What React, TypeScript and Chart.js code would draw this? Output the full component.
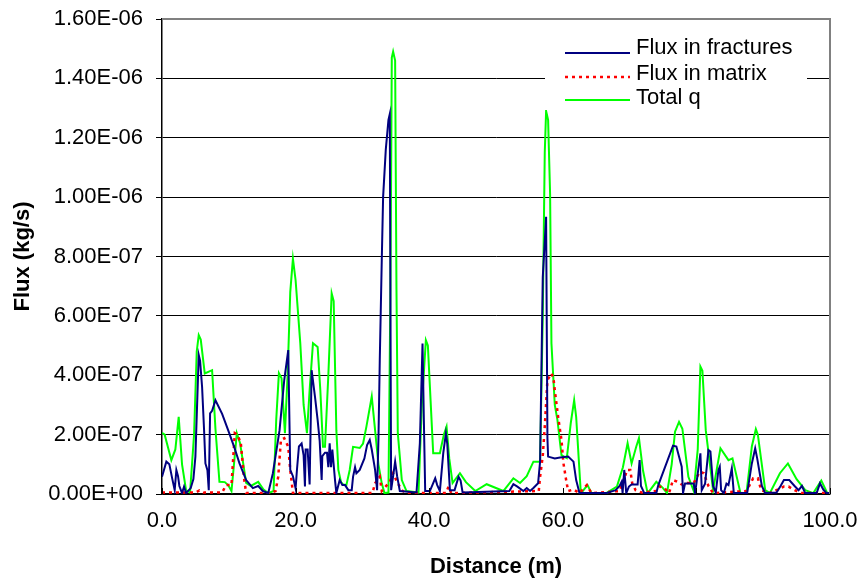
import React, { useEffect, useRef } from "react";
import { Chart, registerables } from "chart.js";

Chart.register(...registerables);

// values of y are in units of 1e-7 kg/s
const UNIT = 1e-7;
const X_TICKS = [0, 20, 40, 60, 80, 100];
const Y_MAX = 1.6e-6;
const Y_STEP = 2e-7;

const SERIES_NAMES = ["Flux in fractures", "Flux in matrix", "Total q"];

const fracX = [0, 0.65, 1.1, 1.5, 1.9, 2.15, 2.4, 2.6, 3.0, 3.3, 3.6, 4.3, 4.7, 5.0, 5.5, 5.7, 6.0, 6.3, 6.5, 6.8, 7.0, 7.2, 7.5, 8.0, 9.0, 9.9, 10.8, 11.6, 12.6, 13.6, 14.4, 15.1, 15.9, 16.6, 17.6, 18.3, 18.9, 19.2, 19.6, 20.0, 20.2, 20.5, 20.9, 21.2, 21.4, 21.5, 21.8, 22.1, 22.4, 22.9, 23.3, 23.6, 23.9, 24.0, 24.4, 24.7, 24.9, 25.1, 25.3, 25.5, 25.9, 26.1, 26.6, 27.0, 27.4, 27.9, 28.4, 28.6, 28.9, 29.1, 29.6, 30.3, 30.7, 31.1, 31.4, 31.9, 32.2, 32.4, 32.6, 32.9, 33.1, 33.5, 33.9, 34.1, 34.3, 34.6, 34.9, 35.2, 35.6, 38.1, 38.6, 39.0, 39.2, 39.4, 40.1, 40.6, 40.9, 41.2, 41.6, 42.1, 42.5, 42.7, 43.1, 43.8, 44.4, 44.7, 45.0, 52.0, 52.6, 53.2, 54.1, 54.6, 55.1, 55.6, 56.3, 56.6, 57.0, 57.5, 57.7, 57.8, 58.8, 59.6, 60.8, 61.6, 62.0, 62.5, 66.5, 67.9, 68.5, 68.8, 68.95, 69.2, 69.5, 69.9, 70.3, 71.2, 71.5, 71.7, 72.2, 74.0, 74.3, 76.5, 77.0, 77.8, 78.0, 78.3, 79.6, 79.8, 80.0, 80.6, 80.8, 81.3, 81.8, 82.1, 82.5, 82.9, 83.3, 83.5, 83.7, 84.1, 84.5, 84.8, 85.3, 85.6, 87.6, 88.3, 88.8, 89.1, 89.8, 90.3, 92.0, 92.6, 93.1, 93.9, 94.7, 95.3, 95.8, 96.3, 98.0, 98.5, 99.0, 99.5, 100];
const fracY = [0.58, 1.09, 1.0, 0.55, 0.13, 0.81, 0.6, 0.27, 0.03, 0.25, 0.03, 0.2, 0.5, 1.26, 4.68, 4.49, 3.61, 2.15, 1.03, 0.8, 0.13, 2.72, 2.8, 3.16, 2.7, 2.15, 1.59, 1.03, 0.47, 0.2, 0.27, 0.1, 0.03, 0.7, 2.15, 3.84, 4.85, 0.81, 0.6, 0.19, 0.81, 1.6, 1.7, 1.3, 0.25, 1.5, 1.5, 0.32, 4.17, 3.28, 2.49, 1.8, 0.47, 1.28, 1.39, 1.39, 0.9, 1.71, 0.9, 1.5, 0.47, 0.03, 0.47, 0.3, 0.3, 0.13, 0.13, 0.58, 0.9, 0.7, 0.81, 1.2, 1.65, 1.82, 1.5, 0.81, 0.13, 1.8, 4.5, 7.88, 10.0, 11.6, 12.6, 12.8, 0.13, 0.6, 1.09, 0.6, 0.1, 0.05, 1.71, 5.07, 2.5, 0.1, 0.1, 0.37, 0.53, 0.3, 0.1, 1.37, 2.04, 1.7, 0.13, 0.13, 0.58, 0.45, 0.05, 0.1, 0.33, 0.25, 0.1, 0.2, 0.1, 0.2, 0.36, 1.09, 7.3, 9.34, 1.88, 1.26, 1.2, 1.23, 1.26, 1.09, 0.47, 0.03, 0.03, 0.13, 0.27, 0.41, 0.03, 0.81, 0.03, 0.25, 0.32, 0.32, 1.14, 0.27, 0.03, 0.03, 0.3, 1.63, 1.6, 0.92, 0.03, 0.35, 0.35, 0.03, 0.35, 1.37, 0.13, 0.35, 1.48, 1.43, 0.27, 0.05, 0.81, 0.92, 0.13, 0.03, 0.35, 0.3, 0.86, 0.03, 0.03, 1.03, 1.54, 1.2, 0.27, 0.03, 0.05, 0.27, 0.47, 0.47, 0.27, 0.13, 0.27, 0.03, 0.03, 0.36, 0.15, 0.03, 0.03];

const matX = [0, 5.0, 5.6, 6.2, 9.0, 9.6, 10.4, 10.9, 11.3, 11.8, 12.3, 12.6, 16.2, 17.0, 17.4, 17.8, 18.3, 18.9, 19.2, 19.6, 31.5, 31.9, 32.6, 32.9, 34.1, 34.6, 35.2, 35.9, 36.5, 42.5, 42.9, 43.3, 56.4, 56.6, 57.0, 57.3, 57.7, 58.3, 58.6, 58.8, 59.3, 59.8, 60.1, 60.5, 60.8, 61.6, 62.5, 63.6, 64.3, 68.5, 69.2, 69.6, 70.1, 70.4, 70.9, 71.8, 74.0, 74.5, 75.2, 75.9, 76.5, 77.1, 77.8, 78.6, 79.6, 80.5, 81.1, 81.8, 82.5, 87.5, 88.5, 89.2, 89.7, 91.0, 93.1, 93.8, 94.7, 95.8, 100];
const matY = [0.05, 0.05, 0.12, 0.05, 0.05, 0.3, 0.3, 2.05, 2.0, 1.71, 0.5, 0.03, 0.03, 0.1, 0.58, 1.82, 1.88, 1.59, 0.81, 0.03, 0.03, 0.36, 0.58, 0.1, 0.41, 0.7, 0.4, 0.13, 0.03, 0.03, 0.25, 0.03, 0.1, 0.58, 1.28, 2.27, 3.84, 4.06, 3.9, 3.5, 2.6, 1.82, 1.03, 0.47, 0.1, 0.15, 0.03, 0.3, 0.03, 0.1, 0.5, 0.81, 0.81, 0.35, 0.13, 0.05, 0.1, 0.25, 0.2, 0.03, 0.47, 0.42, 0.32, 0.37, 0.37, 0.75, 0.7, 0.27, 0.03, 0.1, 0.53, 0.53, 0.13, 0.03, 0.25, 0.25, 0.13, 0.03, 0.03];

const totX = [0, 0.4, 1.4, 2.0, 2.5, 3.0, 3.6, 4.2, 4.8, 5.2, 5.5, 5.8, 6.4, 7.5, 8.0, 8.6, 9.4, 9.9, 10.4, 10.9, 11.2, 11.7, 12.6, 13.3, 14.4, 15.2, 15.9, 16.7, 17.1, 17.5, 17.9, 18.4, 18.8, 19.2, 19.6, 20.0, 20.7, 21.2, 21.7, 22.1, 22.6, 23.3, 23.7, 24.1, 24.4, 24.9, 25.4, 25.7, 26.1, 26.4, 26.8, 27.1, 27.6, 28.1, 28.6, 29.6, 30.1, 30.6, 31.4, 31.9, 32.4, 32.9, 33.3, 33.9, 34.2, 34.4, 34.6, 34.9, 35.1, 35.3, 35.9, 36.6, 38.4, 38.9, 39.5, 39.8, 40.4, 40.6, 41.6, 42.2, 42.6, 43.0, 43.5, 44.6, 45.5, 46.9, 48.6, 51.1, 52.6, 53.6, 54.6, 55.6, 56.6, 57.0, 57.3, 57.5, 57.8, 58.1, 58.3, 58.8, 59.2, 59.8, 60.6, 61.2, 61.7, 62.0, 62.7, 63.7, 64.3, 66.5, 68.1, 69.0, 69.7, 70.3, 71.0, 71.4, 72.0, 72.7, 74.0, 75.0, 75.6, 76.3, 76.8, 77.4, 77.9, 78.8, 79.6, 80.2, 80.6, 80.9, 81.4, 82.5, 83.6, 84.8, 85.4, 86.6, 87.5, 88.3, 88.9, 89.2, 90.3, 91.0, 92.5, 93.7, 95.0, 96.3, 97.5, 98.7, 99.6, 100];
const totY = [2.06, 2.0, 1.14, 1.5, 2.6, 1.0, 0.13, 0.05, 2.0, 4.8, 5.35, 5.2, 4.06, 4.17, 2.2, 0.41, 0.4, 0.3, 0.1, 1.3, 2.05, 1.7, 0.37, 0.27, 0.41, 0.15, 0.03, 0.1, 2.5, 4.07, 3.9, 2.05, 4.0, 6.8, 7.93, 7.2, 5.08, 3.0, 2.05, 3.5, 5.08, 4.95, 3.5, 1.59, 1.59, 4.0, 6.76, 6.5, 2.15, 0.81, 0.4, 0.32, 0.3, 0.81, 1.59, 1.55, 1.7, 2.27, 3.28, 2.15, 1.0, 0.36, 0.03, 0.05, 7.0, 14.7, 14.9, 14.6, 6.9, 2.05, 0.47, 0.1, 0.05, 3.0, 5.18, 5.0, 2.27, 1.37, 1.37, 2.0, 2.27, 1.2, 0.37, 0.7, 0.4, 0.1, 0.33, 0.1, 0.53, 0.37, 0.6, 1.09, 1.09, 6.0, 11.5, 12.9, 12.6, 10.1, 5.08, 3.0, 2.49, 1.31, 1.21, 2.4, 3.16, 2.6, 0.02, 0.3, 0.03, 0.03, 0.25, 0.9, 1.71, 1.03, 1.6, 1.88, 0.8, 0.02, 0.41, 0.2, 0.03, 1.0, 2.1, 2.43, 2.2, 0.58, 0.1, 1.5, 4.29, 4.15, 2.15, 0.13, 1.54, 1.14, 1.2, 0.03, 0.03, 1.6, 2.19, 2.0, 0.13, 0.03, 0.7, 1.03, 0.5, 0.13, 0.03, 0.45, 0.03, 0.0];

const COLORS = ["#000080", "#FF0000", "#00FF00"];
const DASHES: number[][] = [[], [3, 4], []];
const WIDTHS = [2, 2.5, 2];

const FONT = "'Liberation Sans', Arial, sans-serif";

function pts(xs: number[], ys: number[]) {
  return xs.map((x, i) => ({ x, y: ys[i] * UNIT }));
}

function sci(v: number): string {
  if (Math.abs(v) < 1e-15) return "0.00E+00";
  const [m, e] = v.toExponential(2).split("e");
  const n = parseInt(e, 10);
  return m + "E" + (n < 0 ? "-" : "+") + String(Math.abs(n)).padStart(2, "0");
}

const framePlugin = {
  id: "frame",
  afterDraw(chart: any) {
    const { ctx, chartArea: a, scales } = chart;
    const xs = scales.x;
    ctx.save();
    // top and right border (gray)
    ctx.strokeStyle = "#808080";
    ctx.lineWidth = 2;
    ctx.beginPath();
    ctx.moveTo(a.left, a.top);
    ctx.lineTo(a.right, a.top);
    ctx.lineTo(a.right, a.bottom);
    ctx.stroke();
    // inward x ticks
    ctx.strokeStyle = "#000";
    ctx.lineWidth = 1;
    for (const t of X_TICKS) {
      const px = Math.round(xs.getPixelForValue(t)) + 0.5;
      ctx.beginPath();
      ctx.moveTo(px, a.bottom);
      ctx.lineTo(px, a.bottom - 6);
      ctx.stroke();
    }
    // legend
    const lx = a.right - 285;
    const ly = a.top + 11;
    ctx.fillStyle = "#fff";
    ctx.fillRect(lx, ly, 262, 80);
    const rows = [23, 47, 70];
    const textRows = [18, 44, 68];
    ctx.font = `22px ${FONT}`;
    ctx.textBaseline = "middle";
    ctx.textAlign = "left";
    SERIES_NAMES.forEach((name, i) => {
      ctx.save();
      ctx.strokeStyle = COLORS[i];
      ctx.lineWidth = i === 1 ? 2.5 : 2;
      ctx.setLineDash(DASHES[i]);
      ctx.beginPath();
      ctx.moveTo(lx + 20, ly + rows[i]);
      ctx.lineTo(lx + 85, ly + rows[i]);
      ctx.stroke();
      ctx.restore();
      ctx.fillStyle = "#000";
      ctx.fillText(name, lx + 91, ly + textRows[i]);
    });
    ctx.restore();
  },
};

export default function App() {
  const ref = useRef<HTMLCanvasElement | null>(null);

  useEffect(() => {
    if (!ref.current) return;
    const datasets = [
      { label: SERIES_NAMES[0], data: pts(fracX, fracY) },
      { label: SERIES_NAMES[1], data: pts(matX, matY) },
      { label: SERIES_NAMES[2], data: pts(totX, totY) },
    ].map((d, i) => ({
      ...d,
      borderColor: COLORS[i],
      backgroundColor: COLORS[i],
      borderWidth: WIDTHS[i],
      borderDash: DASHES[i],
      pointRadius: 0,
      tension: 0,
      fill: false,
    }));

    const chart = new Chart(ref.current, {
      type: "line",
      data: { datasets },
      options: {
        animation: false,
        responsive: false,
        maintainAspectRatio: false,
        layout: { padding: { top: 19, right: 34, bottom: 0, left: 0 } },
        plugins: { legend: { display: false }, tooltip: { enabled: false } },
        scales: {
          x: {
            type: "linear",
            min: 0,
            max: 100,
            afterFit: (s: any) => {
              s.height = 91;
              s.paddingLeft = 0;
              s.paddingRight = 0;
            },
            afterBuildTicks: (s: any) => {
              s.ticks = X_TICKS.map((v) => ({ value: v }));
            },
            ticks: {
              callback: (v: any) => Number(v).toFixed(1),
              font: { family: FONT, size: 22 },
              color: "#000",
              padding: 14,
              maxRotation: 0,
              autoSkip: false,
            },
            grid: { display: true, drawOnChartArea: false, drawTicks: false },
            border: { color: "#000", width: 1.5 },
            title: {
              display: true,
              text: "Distance (m)",
              color: "#000",
              font: { family: FONT, size: 22, weight: "bold" },
              padding: { top: 0, bottom: 5 },
            },
          },
          y: {
            min: 0,
            max: Y_MAX,
            afterFit: (s: any) => {
              s.width = 162;
              s.paddingTop = 0;
              s.paddingBottom = 0;
            },
            ticks: {
              stepSize: Y_STEP,
              callback: (v: any) => sci(Number(v)),
              font: { family: FONT, size: 22 },
              color: "#000",
              padding: 13,
            },
            grid: { color: "#000", lineWidth: 1, tickLength: 6 },
            border: { color: "#000", width: 1.5 },
            title: {
              display: true,
              text: "Flux (kg/s)",
              color: "#000",
              font: { family: FONT, size: 22, weight: "bold" },
              padding: { top: 10, bottom: 0 },
            },
          },
        },
      },
      plugins: [framePlugin],
    });
    return () => chart.destroy();
  }, []);

  return (
    <div style={{ position: "fixed", left: 0, top: 0, width: 864, height: 585, background: "#fff" }}>
      <canvas ref={ref} width={864} height={585} />
    </div>
  );
}
